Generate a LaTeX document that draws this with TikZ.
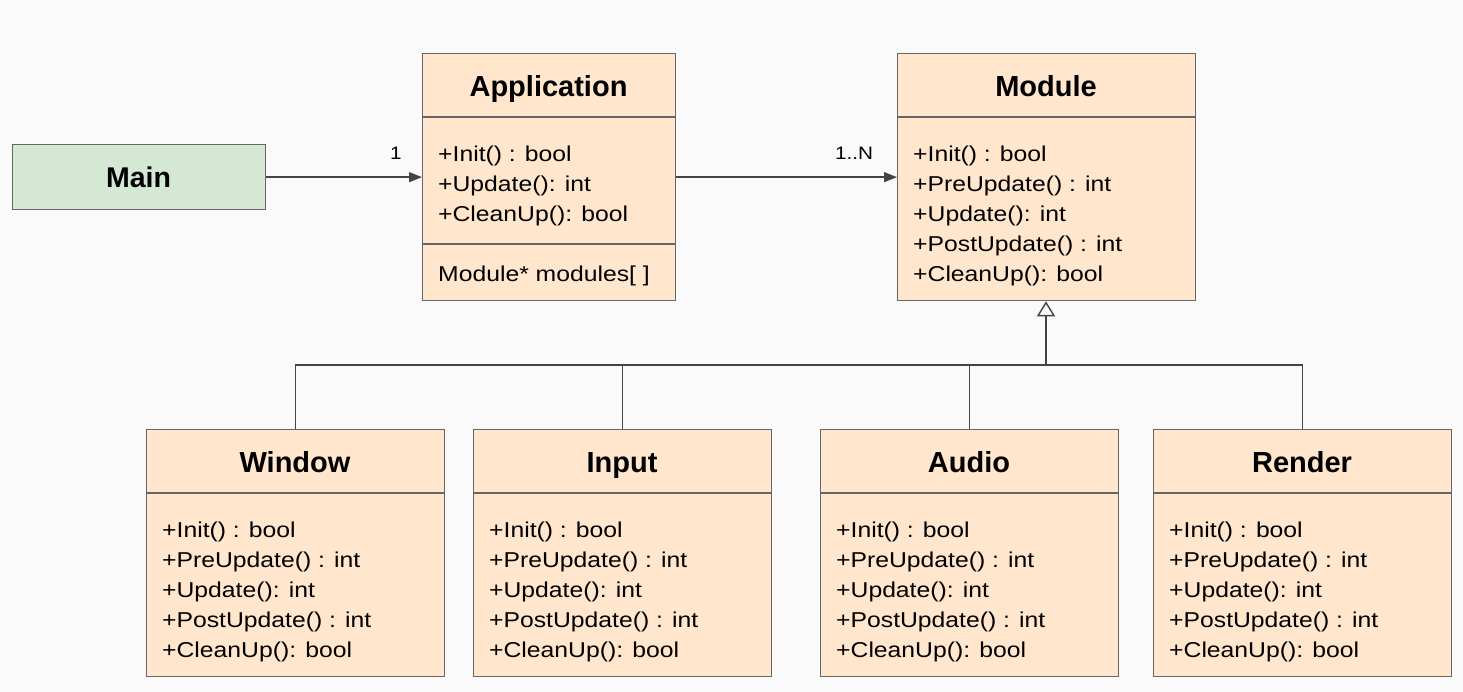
\documentclass[tikz,border=0pt]{standalone}
\usepackage{fontspec}
\setmainfont{Liberation Sans}
\newfontfamily\bodyf[FakeStretch=1.15]{Liberation Sans}
\newfontfamily\titlef{Liberation Sans}
\usetikzlibrary{arrows.meta}
\definecolor{bgc}{HTML}{FAFAFA}
\definecolor{clsfill}{HTML}{FFE6CC}
\definecolor{mainfill}{HTML}{D5E8D4}
\definecolor{strk}{HTML}{666666}
\definecolor{arr}{HTML}{444444}
\tikzset{
  cls/.style={draw=strk, fill=clsfill, line width=1.3pt, inner sep=0, anchor=north west},
  mainbox/.style={draw=strk, fill=mainfill, line width=1.3pt, inner sep=0, anchor=north west},
  divider/.style={draw=strk, line width=1.3pt},
  ttl/.style={inner sep=0, anchor=base, font=\titlef\bfseries\fontsize{29}{34}\selectfont},
  mem/.style={inner sep=0, anchor=base west, font=\bodyf\fontsize{21.5}{30}\selectfont},
  lbl/.style={inner sep=0, anchor=base west, font=\bodyf\fontsize{18}{20}\selectfont},
  assoc/.style={draw=arr, line width=1.4pt, -{Triangle[length=13pt, width=10pt]}},
  inh/.style={draw=arr, line width=1.4pt, -{Triangle[open, length=15pt, width=18pt, fill=bgc]}},
  gen/.style={draw=arr, line width=1.3pt}
}
\newcommand\memberlist[4]{%
  \foreach \t [count=\i from 0] in {#4}
    \node[mem] (#1-\i) at (#2, #3+30*\i) {\t};%
}
\begin{document}
\begin{tikzpicture}[x=1pt, y=-1pt]
\fill[bgc] (0,0) rectangle (1463,692);
\useasboundingbox (0,0) rectangle (1463,692);

% Main
\node[mainbox, minimum width=253pt, minimum height=65pt] (main) at (12,144) {};
\node[ttl, font=\titlef\bfseries\fontsize{28.5}{34}\selectfont] (mainT) at (138.5,188) {Main};

% Application
\node[cls, minimum width=253pt, minimum height=247pt] (app) at (422,53) {};
\draw[divider] (422,117) -- (675,117);
\draw[divider] (422,244) -- (675,244);
\node[ttl] (appT) at (548.5,97) {Application};
\memberlist{appm}{438}{161.5}{+Init() : bool, +Update(): int, +CleanUp(): bool}
\node[mem] (appa) at (438,282) {Module* modules[ ]};

% Module
\node[cls, minimum width=298pt, minimum height=247pt] (mod) at (897,53) {};
\draw[divider] (897,117) -- (1195,117);
\node[ttl] (modT) at (1046,97) {Module};
\memberlist{modm}{913}{161.5}{+Init() : bool, +PreUpdate() : int, +Update(): int, +PostUpdate() : int, +CleanUp(): bool}

% Children
\foreach \nm/\lab/\xx in {win/Window/146, inp/Input/473, aud/Audio/820, ren/Render/1153}{
  \node[cls, minimum width=298pt, minimum height=247pt] (\nm) at (\xx,429) {};
  \draw[divider] (\xx,493) -- (\xx+298,493);
  \node[ttl] (\nm T) at (\xx+149,472.5) {\lab};
  \memberlist{\nm m}{\xx+16}{537.5}{+Init() : bool, +PreUpdate() : int, +Update(): int, +PostUpdate() : int, +CleanUp(): bool}
}

% Associations
\draw[assoc] (main.east) -- (main.east -| app.west);
\node[lbl] (l1) at (390,160) {1};
\draw[assoc] (app.east |- main.east) -- (main.east -| mod.west);
\node[lbl] (lN) at (835,160) {1..N};

% Generalization
\coordinate (bus) at (1046,365);
\draw[gen] (win.north) |- (bus);
\draw[gen] (inp.north) |- (bus);
\draw[gen] (aud.north) |- (bus);
\draw[gen] (ren.north) |- (bus);
\draw[inh] (bus) -- (bus |- mod.south);
\end{tikzpicture}
\end{document}
